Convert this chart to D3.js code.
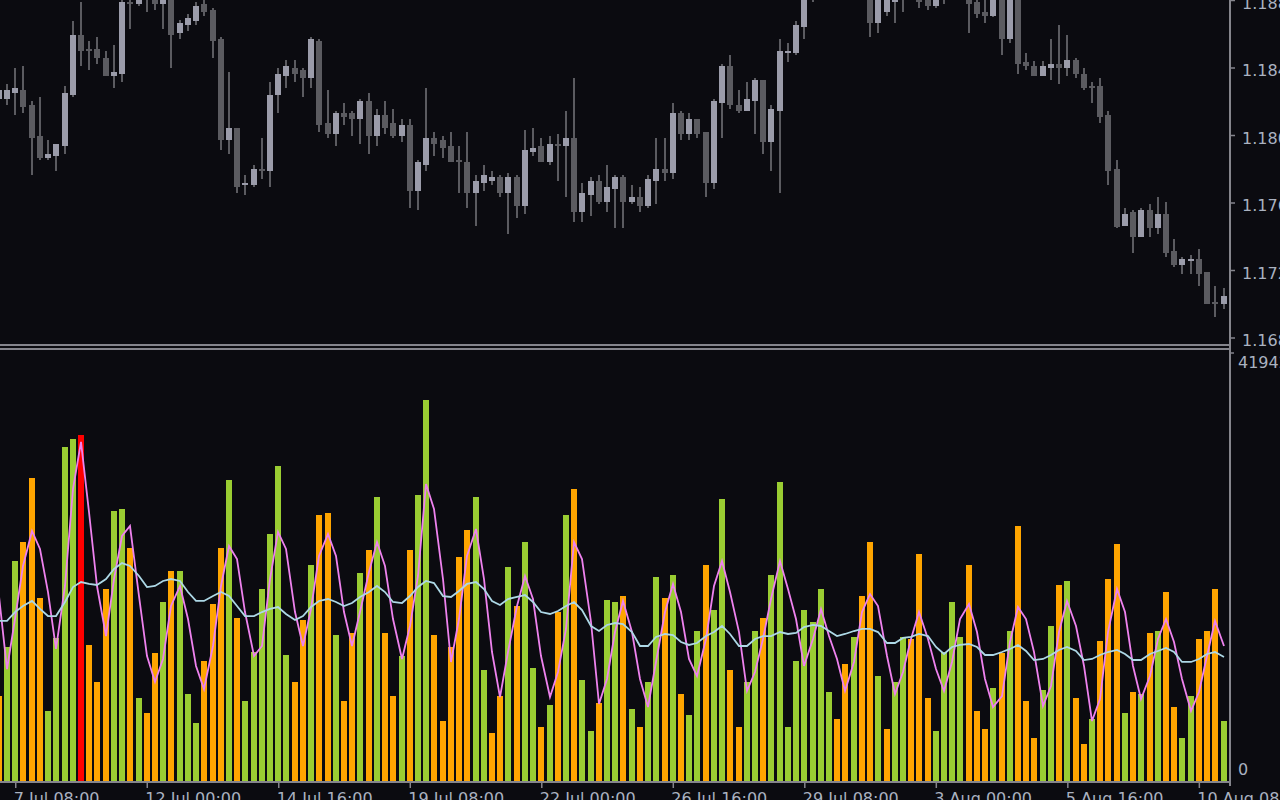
<!DOCTYPE html>
<html><head><meta charset="utf-8">
<script src="https://cdn.jsdelivr.net/npm/d3@7"></script>
<style>html,body{margin:0;padding:0;background:#0b0b10;overflow:hidden}svg{display:block}</style>
</head><body>
<svg id="chart" width="1280" height="800"></svg>
<script>
// ---------- DATA (EURUSD H4, 150 bars) ----------
const opens = [1.18213,1.18213,1.18249,1.18267,1.18178,1.17994,1.17864,1.17876,1.17935,1.18237,
1.18593,1.18510,1.18510,1.18456,1.18350,1.18361,1.18788,1.18776,1.18907,1.18859,
1.18776,1.18847,1.18604,1.18652,1.18676,1.18776,1.18741,1.18569,1.17970,1.18041,
1.17704,1.17704,1.17793,1.17787,1.18237,1.18350,1.18397,1.18385,1.18338,1.18557,
1.18071,1.18006,1.18130,1.18130,1.18095,1.18201,1.17994,1.18119,1.18071,1.17994,
1.18059,1.17668,1.17822,1.17982,1.17970,1.17935,1.17852,1.17840,1.17656,1.17716,
1.17727,1.17751,1.17656,1.17751,1.17579,1.17899,1.17935,1.17840,1.17947,1.17935,
1.17982,1.17544,1.17644,1.17727,1.17603,1.17680,1.17751,1.17603,1.17633,1.17579,
1.17727,1.17799,1.17775,1.18130,1.18006,1.18095,1.18018,1.17716,1.18190,1.18409,
1.18178,1.18142,1.18201,1.18326,1.17959,1.18142,1.18486,1.18486,1.18640,1.18818,
1.18966,1.19007,1.19096,1.19108,1.18919,1.18948,1.18859,1.18664,1.18729,1.18788,
1.18818,1.18948,1.18836,1.18859,1.18764,1.18830,1.18847,1.18836,1.18847,1.18788,
1.18729,1.18705,1.18836,1.18569,1.18824,1.18433,1.18409,1.18350,1.18397,1.18421,
1.18397,1.18444,1.18361,1.18290,1.18290,1.18119,1.17799,1.17461,1.17544,1.17396,
1.17556,1.17449,1.17532,1.17313,1.17230,1.17253,1.17265,1.17188,1.17010,1.16999];
const highs = [1.18302,1.18302,1.18397,1.18409,1.18201,1.18225,1.17970,1.17947,1.18290,1.18676,
1.18788,1.18557,1.18581,1.18498,1.18533,1.18830,1.18847,1.18889,1.18930,1.18883,
1.18919,1.18871,1.18681,1.18717,1.18788,1.18818,1.18753,1.18581,1.18373,1.18041,
1.17763,1.17822,1.17982,1.18314,1.18397,1.18444,1.18444,1.18397,1.18581,1.18569,
1.18267,1.18142,1.18190,1.18142,1.18213,1.18249,1.18154,1.18201,1.18154,1.18095,
1.18095,1.17852,1.18279,1.18018,1.17994,1.18018,1.17935,1.18018,1.17763,1.17822,
1.17787,1.17763,1.17775,1.17763,1.18030,1.18041,1.17982,1.17994,1.18006,1.18142,
1.18338,1.17716,1.17751,1.17763,1.17822,1.17763,1.17763,1.17704,1.17692,1.17763,
1.17982,1.17982,1.18190,1.18142,1.18130,1.18095,1.18018,1.18213,1.18421,1.18474,
1.18267,1.18314,1.18338,1.18326,1.18178,1.18569,1.18545,1.18676,1.18859,1.19007,
1.19096,1.19108,1.19156,1.19144,1.19126,1.19067,1.18889,1.18871,1.18889,1.18871,
1.18919,1.18978,1.18859,1.18883,1.18895,1.18948,1.18966,1.18942,1.18871,1.18824,
1.18812,1.18871,1.18859,1.18847,1.18847,1.18486,1.18439,1.18439,1.18569,1.18652,
1.18593,1.18456,1.18397,1.18314,1.18338,1.18142,1.17852,1.17567,1.17556,1.17567,
1.17591,1.17633,1.17603,1.17384,1.17277,1.17289,1.17324,1.17188,1.17105,1.17093];
const lows = [1.18184,1.18178,1.18119,1.18130,1.17763,1.17852,1.17852,1.17787,1.17887,1.18225,
1.18409,1.18385,1.18421,1.18350,1.18279,1.18314,1.18628,1.18764,1.18729,1.18741,
1.18628,1.18397,1.18569,1.18616,1.18652,1.18705,1.18456,1.17911,1.17887,1.17656,
1.17644,1.17692,1.17739,1.17692,1.18130,1.18279,1.18314,1.18225,1.18279,1.18018,
1.17982,1.17935,1.18059,1.17994,1.17947,1.17887,1.17935,1.18006,1.17982,1.17959,
1.17567,1.17556,1.17787,1.17876,1.17864,1.17840,1.17656,1.17567,1.17461,1.17668,
1.17704,1.17633,1.17413,1.17508,1.17532,1.17876,1.17840,1.17822,1.17727,1.17633,
1.17484,1.17484,1.17520,1.17591,1.17544,1.17449,1.17449,1.17591,1.17544,1.17567,
1.17591,1.17727,1.17739,1.17970,1.17970,1.17982,1.17633,1.17680,1.17982,1.18154,
1.18130,1.18142,1.18006,1.17887,1.17787,1.17656,1.18433,1.18474,1.18569,1.18788,
1.18919,1.18948,1.18978,1.19007,1.18889,1.18812,1.18581,1.18604,1.18705,1.18664,
1.18729,1.18812,1.18753,1.18741,1.18753,1.18776,1.18818,1.18812,1.18604,1.18693,
1.18664,1.18699,1.18474,1.18545,1.18361,1.18385,1.18350,1.18350,1.18326,1.18302,
1.18350,1.18338,1.18267,1.18190,1.18071,1.17704,1.17449,1.17461,1.17301,1.17396,
1.17396,1.17413,1.17277,1.17218,1.17176,1.17176,1.17105,1.16999,1.16921,1.16969];
const closes = [1.18267,1.18267,1.18279,1.18166,1.17982,1.17864,1.17887,1.17947,1.18249,1.18593,
1.18498,1.18498,1.18456,1.18350,1.18373,1.18788,1.18782,1.18859,1.18812,1.18776,
1.18871,1.18593,1.18664,1.18693,1.18764,1.18729,1.18557,1.17970,1.18041,1.17692,
1.17716,1.17799,1.17793,1.18237,1.18361,1.18409,1.18361,1.18338,1.18569,1.18059,
1.18006,1.18130,1.18107,1.18095,1.18201,1.17994,1.18119,1.18041,1.17994,1.18059,
1.17668,1.17840,1.17982,1.17947,1.17923,1.17840,1.17840,1.17656,1.17727,1.17763,
1.17751,1.17656,1.17751,1.17579,1.17911,1.17923,1.17840,1.17947,1.17935,1.17982,
1.17544,1.17656,1.17727,1.17603,1.17692,1.17751,1.17603,1.17633,1.17579,1.17739,
1.17799,1.17775,1.18130,1.18006,1.18095,1.18006,1.17716,1.18201,1.18409,1.18178,
1.18142,1.18213,1.18326,1.17959,1.18154,1.18498,1.18498,1.18652,1.18830,1.18978,
1.19067,1.19067,1.19025,1.19049,1.19037,1.18830,1.18664,1.18847,1.18859,1.18806,
1.18889,1.18847,1.18788,1.18764,1.18871,1.18919,1.18930,1.18907,1.18776,1.18717,
1.18705,1.18847,1.18569,1.18824,1.18421,1.18409,1.18350,1.18409,1.18421,1.18397,
1.18444,1.18361,1.18279,1.18279,1.18107,1.17787,1.17455,1.17532,1.17396,1.17556,
1.17449,1.17532,1.17301,1.17230,1.17265,1.17265,1.17176,1.16999,1.16999,1.17046];

const volumes = [8290,13070,21450,23300,29540,17840,6830,13900,32570,33350,
33740,13260,9650,18720,26330,26520,22720,8090,6630,12480,
17450,20480,20480,8480,5660,11700,17260,22720,29350,15890,
7800,12580,18720,24080,30710,12290,9650,15700,21060,25940,
26130,14240,7800,14430,20280,22520,27690,14430,8290,12190,
22520,27890,37150,14240,5850,13070,21840,24470,27690,10820,
4680,8290,20870,17060,23300,11020,5270,7410,16480,25940,
28470,9850,4880,7610,17650,17450,18040,7020,5270,9650,
19890,17840,20090,8480,6440,14630,21060,16670,27500,10820,
5270,9650,14630,15890,20090,29150,5270,11700,16670,15500,
18720,8680,6050,11410,14040,18040,23300,10240,5070,9650,
14040,13850,22130,8090,4880,12580,17450,14040,21060,6830,
5070,9070,12480,14630,24860,7800,4190,8870,15110,19110,
19500,8090,3610,6050,13650,19700,23110,6630,8680,8480,
14430,14630,18430,7220,4190,8290,13850,14630,18720,5850];
// u = up volume, d = down volume, s = spike
const volumeKinds = ("duuddduuuu"+"sddduududd"+"uduuudddud"+"uuuuuuddud"+"duddududdu"+
  "duuddddduu"+"dduduududu"+"duuduududu"+"ududuuduud"+"duuduuuuuu"+
  "uudduddudu"+"uddduuuudd"+"dududdduud"+"uddudddudu"+"dudduudddu").split("");
const fastMA = [18040,10920,15800,20970,24390,22630,18430,12880,19020,28480,
33070,26240,19020,14140,19700,23900,24870,18040,12190,9660,
11900,17070,19020,15800,11220,8970,13170,19020,22920,21650,
16480,12190,13170,19700,24290,22630,16480,13170,16780,21950,
24090,21950,16480,13170,16480,20390,23310,20970,15800,11900,
15120,20000,28970,26530,19700,11610,15800,21950,24580,19700,
12580,8190,12580,17070,20000,17750,12190,8190,10630,14830,
23310,21650,15510,7510,9950,14530,17560,14530,9950,7220,
11610,16480,19220,16480,11900,10240,13850,19020,21460,18430,
14530,8780,10630,13850,17750,21460,18730,15800,11220,13850,
16780,14140,11900,8780,11610,16480,18240,17070,12190,8490,
10630,13850,16480,13850,10920,8780,11610,15800,17260,14530,
9950,7220,8290,13560,16970,15800,12580,7320,9270,14530,
17560,15120,11220,5850,8000,14530,18730,16480,11220,8000,
10240,13850,15800,13560,9950,6830,8680,12190,15610,13170];
const slowMA = [15610,15610,16480,17070,17560,16780,16090,16090,17460,18920,
19410,19220,19120,19700,20680,21260,20970,20000,18920,19020,
19510,19700,19510,18430,17560,17560,18040,18430,18040,17070,
16090,16090,16480,16780,16970,16290,15700,16090,16970,17560,
17750,17460,17070,17360,17950,18430,19020,18430,17460,17360,
18040,18920,19510,19310,18040,17950,18530,19220,19410,18730,
17560,17170,17750,17950,18140,17460,16480,16290,16580,17070,
17460,16680,15120,14630,15220,15410,15310,14530,13170,13170,
14050,14340,14240,13560,13270,13460,14140,14530,15120,14340,
13170,13170,13850,14140,14140,14530,14340,14440,15020,15220,
15120,14630,14140,14340,14630,14830,14830,14530,13460,13460,
13950,14050,14340,14140,13070,12390,13070,13270,13360,13070,
12290,12290,12580,12880,13270,12680,11800,11900,12290,12780,
13070,12680,11800,11900,12290,12580,12780,12390,11800,11800,
12390,12680,12970,12580,11610,11610,11900,12390,12580,12100];

const priceTicks = [1.1880,1.1840,1.1800,1.1760,1.1720,1.1680];
const volumeTicks = [41942,0];
const timeTickIndex = [2,18,34,50,66,82,98,114,130,146];
const timeTickLabels = ["7 Jul 08:00","12 Jul 00:00","14 Jul 16:00","19 Jul 08:00","22 Jul 00:00",
  "26 Jul 16:00","29 Jul 08:00","3 Aug 00:00","5 Aug 16:00","10 Aug 08:00"];

// ---------- STYLE ----------
const BG="#0b0b10", GRID="#85858c", TXT="#aab2c0";
const BULL="#9b9caa", BEAR="#5b5b60", WICK="#5b5b60";
const VCOL={u:"#9acd32", d:"#ffa500", s:"#ff0000"};
const FONT="'DejaVu Sans', Verdana, sans-serif";

const svg=d3.select("#chart");
svg.append("rect").attr("width",1280).attr("height",800).attr("fill",BG);

const N=opens.length;
const idx=d3.range(N);
const x=d3.scaleLinear().domain([0,N-1]).range([-1.2,1223.5]);
const yP=d3.scaleLinear().domain([1.168,1.188]).range([337.5,0]);
const yV=d3.scaleLinear().domain([0,41942]).range([781,351]);
const cx=i=>Math.round(x(i));

const defs=svg.append("defs");
defs.append("clipPath").attr("id","clipTop").append("rect").attr("x",0).attr("y",0).attr("width",1229).attr("height",344);
defs.append("clipPath").attr("id","clipBot").append("rect").attr("x",0).attr("y",350).attr("width",1229).attr("height",431);

// ---------- CANDLES ----------
const gC=svg.append("g").attr("clip-path","url(#clipTop)").attr("shape-rendering","crispEdges");
gC.selectAll("rect.wick").data(idx).join("rect").attr("class","wick")
  .attr("x",i=>cx(i)-1).attr("width",2)
  .attr("y",i=>yP(highs[i])).attr("height",i=>Math.max(1,yP(lows[i])-yP(highs[i])))
  .attr("fill",WICK);
gC.selectAll("rect.body").data(idx).join("rect").attr("class","body")
  .attr("x",i=>cx(i)-3).attr("width",6)
  .attr("y",i=>{const t=yP(Math.max(opens[i],closes[i])),b=yP(Math.min(opens[i],closes[i]));return b-t<2?(t+b)/2-1:t;})
  .attr("height",i=>Math.max(2,Math.abs(yP(opens[i])-yP(closes[i]))))
  .attr("fill",i=>closes[i]>opens[i]?BULL:BEAR);

// ---------- VOLUME ----------
const gV=svg.append("g").attr("clip-path","url(#clipBot)");
gV.append("g").attr("shape-rendering","crispEdges").selectAll("rect").data(idx).join("rect")
  .attr("x",i=>cx(i)-3).attr("width",6)
  .attr("y",i=>yV(volumes[i])).attr("height",i=>yV(0)-yV(volumes[i]))
  .attr("fill",i=>VCOL[volumeKinds[i]]);
const line=d3.line().x((d,i)=>cx(i)).y(d=>yV(d));
gV.append("path").datum(fastMA).attr("d",line).attr("fill","none").attr("stroke","#ee82ee").attr("stroke-width",1.8);
gV.append("path").datum(slowMA).attr("d",line).attr("fill","none").attr("stroke","#add8e6").attr("stroke-width",1.8);

// ---------- FRAME ----------
const gF=svg.append("g").attr("shape-rendering","crispEdges").attr("fill",GRID);
gF.append("rect").attr("x",0).attr("y",344).attr("width",1231).attr("height",2);
gF.append("rect").attr("x",0).attr("y",348).attr("width",1231).attr("height",2);
gF.append("rect").attr("x",0).attr("y",781).attr("width",1231).attr("height",2);
gF.append("rect").attr("x",1229).attr("y",0).attr("width",2).attr("height",786);

// ---------- AXES ----------
function styleAxis(g){
  g.select(".domain").remove();
  g.selectAll(".tick line").attr("stroke",GRID).attr("stroke-width",1.5);
  g.selectAll(".tick text").attr("fill",TXT).style("font-family",FONT).style("font-size","16px");
}
const axP=svg.append("g").attr("transform","translate(1230,0)")
  .call(d3.axisRight(yP).tickValues(priceTicks).tickFormat(d3.format(".5f")).tickSize(5).tickPadding(7));
styleAxis(axP); axP.selectAll(".tick text").attr("dy","0.5em");

const axV=svg.append("g").attr("transform","translate(1230,0)")
  .call(d3.axisRight(yV).tickValues(volumeTicks).tickFormat(d3.format("d")).tickSize(4).tickPadding(4));
styleAxis(axV);
axV.selectAll(".tick").filter(d=>d>0).attr("transform","translate(0,353)").select("text").attr("dy","0.95em");
axV.selectAll(".tick").filter(d=>d===0).select("text").attr("dy","-0.38em");
axV.selectAll(".tick").filter(d=>d===0).select("line").remove();

const axT=svg.append("g").attr("transform","translate(0,782)")
  .call(d3.axisBottom(x).tickValues(timeTickIndex).tickFormat((d,i)=>timeTickLabels[i]).tickSize(6).tickPadding(5));
styleAxis(axT);
axT.selectAll(".tick text").attr("text-anchor","start").attr("x",-2);
</script>
</body></html>
